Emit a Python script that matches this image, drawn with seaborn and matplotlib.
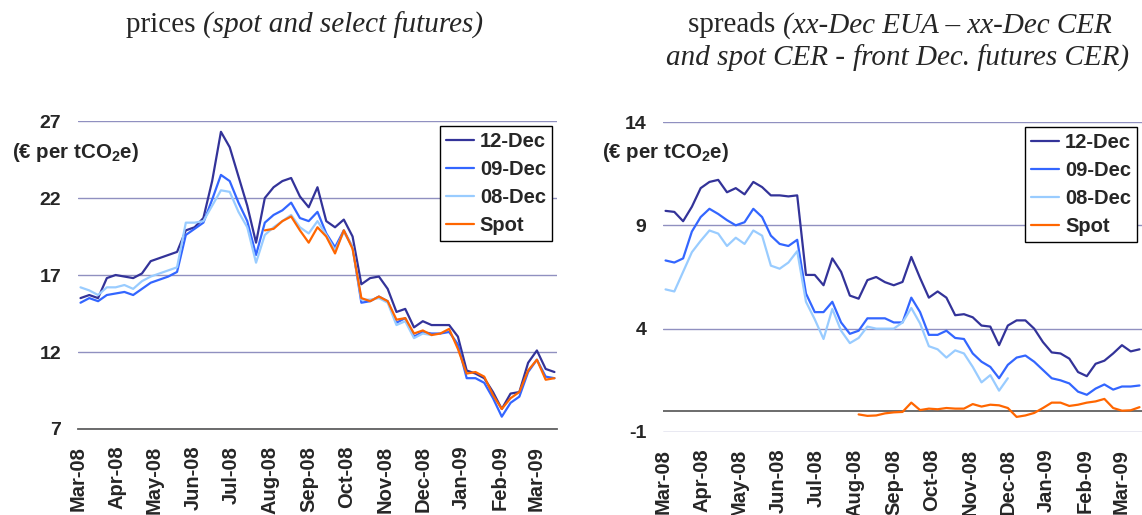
import matplotlib
matplotlib.use('Agg')
import numpy as np
import pandas as pd
import matplotlib.pyplot as plt
import matplotlib.dates as mdates
import seaborn as sns

# ---- data (weekly readings, Mondays from 3 Mar 2008) ----
weeks = pd.date_range('2008-03-03', periods=55, freq='7D')

# prices (EUR per tCO2e)
price_12 = [15.5, 15.7, 15.5, 16.8, 17.0, 16.9, 16.8, 17.1, 17.9, 18.1, 18.3, 18.5,
            19.9, 20.1, 20.7, 23.1, 26.3, 25.3, 23.4, 21.5, 19.1, 22.0, 22.7, 23.1,
            23.3, 22.1, 21.4, 22.7, 20.5, 20.1, 20.6, 19.5, 16.4, 16.8, 16.9, 16.1,
            14.6, 14.8, 13.6, 14.0, 13.75, 13.75, 13.75, 13.0, 10.8, 10.6, 10.3, 9.4,
            8.3, 9.3, 9.4, 11.3, 12.1, 10.9, 10.7]
price_09 = [15.2, 15.5, 15.3, 15.7, 15.8, 15.9, 15.7, 16.1, 16.5, 16.7, 16.9, 17.2,
            19.6, 20.0, 20.4, 21.9, 23.5, 23.1, 21.7, 20.5, 18.3, 20.4, 20.9, 21.2,
            21.7, 20.7, 20.5, 21.1, 19.7, 18.8, 19.9, 18.8, 15.2, 15.3, 15.6, 15.3,
            13.9, 14.2, 13.0, 13.3, 13.2, 13.2, 13.3, 12.5, 10.3, 10.3, 10.0, 9.0,
            7.8, 8.7, 9.1, 10.7, 11.5, 10.4, 10.3]
price_08 = [16.2, 16.0, 15.7, 16.2, 16.2, 16.35, 16.1, 16.6, 16.9, 17.1, 17.3, 17.5,
            20.4, 20.4, 20.5, 21.5, 22.5, 22.4, 21.1, 20.1, 17.8, 19.6, 20.1, 20.5,
            20.9, 20.1, 19.7, 20.5, 19.6, 18.6, 19.8, 18.8, 15.4, 15.4, 15.5, 15.2,
            13.75, 14.0, 12.9, 13.2, 13.1]
price_spot = [19.9, 20.0, 20.5, 20.8, 19.9, 19.1, 20.1, 19.5, 18.4, 19.9, 18.7,
              15.5, 15.3, 15.6, 15.3, 14.1, 14.2, 13.2, 13.4, 13.1, 13.2, 13.5, 12.2,
              10.6, 10.7, 10.4, 9.2, 8.3, 9.0, 9.4, 10.8, 11.5, 10.2, 10.3]
price_spot_start = 21  # week index where spot series begins

# spreads (EUR per tCO2e)
spread_12 = [9.7, 9.65, 9.2, 9.9, 10.8, 11.1, 11.2, 10.6, 10.8, 10.5, 11.1, 10.85,
             10.45, 10.45, 10.4, 10.45, 6.6, 6.6, 6.1, 7.4, 6.75, 5.6, 5.45, 6.35,
             6.5, 6.25, 6.1, 6.26, 7.47, 6.45, 5.5, 5.8, 5.5, 4.65, 4.7, 4.55, 4.15,
             4.1, 3.2, 4.15, 4.4, 4.4, 4.0, 3.35, 2.85, 2.8, 2.55, 1.9, 1.7, 2.3,
             2.45, 2.8, 3.2, 2.9, 3.0]
spread_09 = [7.3, 7.2, 7.4, 8.7, 9.4, 9.8, 9.55, 9.25, 9.0, 9.15, 9.8, 9.4, 8.5,
             8.1, 8.0, 8.3, 5.7, 4.8, 4.8, 5.3, 4.3, 3.75, 3.9, 4.5, 4.5, 4.5, 4.3,
             4.3, 5.5, 4.8, 3.7, 3.7, 3.9, 3.55, 3.5, 2.8, 2.4, 2.15, 1.6, 2.25, 2.6,
             2.7, 2.4, 2.0, 1.6, 1.5, 1.35, 0.95, 0.8, 1.1, 1.3, 1.05, 1.2, 1.2, 1.25]
spread_08 = [5.9, 5.8, 6.75, 7.7, 8.25, 8.75, 8.6, 8.0, 8.4, 8.1, 8.75, 8.5, 7.05,
             6.9, 7.2, 7.75, 5.3, 4.45, 3.5, 4.95, 3.9, 3.3, 3.55, 4.1, 4.0, 4.0, 4.0,
             4.3, 5.0, 4.25, 3.15, 3.0, 2.6, 2.95, 2.8, 2.15, 1.4, 1.75, 1.0, 1.6]
spread_spot = [-0.15, -0.22, -0.2, -0.1, -0.05, -0.03, 0.42, 0.06, 0.13, 0.1, 0.16,
               0.13, 0.13, 0.35, 0.23, 0.32, 0.29, 0.16, -0.27, -0.2, -0.08, 0.16,
               0.42, 0.42, 0.26, 0.32, 0.42, 0.48, 0.6, 0.16, 0.03, 0.05, 0.2]
spread_spot_start = 22

series_names = ['12-Dec', '09-Dec', '08-Dec', 'Spot']
colors = {'12-Dec': '#333399', '09-Dec': '#3366ff', '08-Dec': '#99ccff', 'Spot': '#ff6600'}


def long_frame(vals, starts):
    parts = []
    for name, v, s in zip(series_names, vals, starts):
        parts.append(pd.DataFrame({'date': weeks[s:s + len(v)], 'value': v, 'series': name}))
    return pd.concat(parts, ignore_index=True)


prices = long_frame([price_12, price_09, price_08, price_spot], [0, 0, 0, price_spot_start])
spreads = long_frame([spread_12, spread_09, spread_08, spread_spot], [0, 0, 0, spread_spot_start])

# ---- style ----
sns.set_style('white')
plt.rcParams['font.family'] = ['Liberation Sans', 'DejaVu Sans']
plt.rcParams['font.weight'] = 'bold'
plt.rcParams['axes.unicode_minus'] = False
plt.rcParams['mathtext.fontset'] = 'custom'
plt.rcParams['mathtext.rm'] = 'Liberation Sans:bold'
plt.rcParams['mathtext.it'] = 'Liberation Sans:bold'

GRID = '#9090c0'
AXIS = '#606060'

fig = plt.figure(figsize=(11.42, 5.15), dpi=100)
ax1 = fig.add_axes([0.0683, 0.167, 0.4194, 0.598])
ax2 = fig.add_axes([0.5806, 0.1612, 0.4194, 0.6019])


def style_axis(ax, df, ylim, yticks):
    sns.lineplot(data=df, x='date', y='value', hue='series', hue_order=series_names,
                 palette=colors, linewidth=1.6, ax=ax, zorder=3)
    ax.set_xlim(pd.Timestamp('2008-03-01'), pd.Timestamp('2009-03-18'))
    ax.set_ylim(*ylim)
    ax.set_yticks(yticks)
    ax.xaxis.set_major_locator(mdates.MonthLocator())
    ax.xaxis.set_major_formatter(mdates.DateFormatter('%b-%y'))
    ax.set_xlabel('')
    ax.set_ylabel('')
    for s in ax.spines.values():
        s.set_visible(False)
    ax.grid(axis='y', color=GRID, linewidth=1.0)
    ax.grid(axis='x', visible=False)
    ax.set_axisbelow(True)
    ax.tick_params(axis='y', length=0, labelsize=14, pad=12)
    ax.tick_params(axis='x', length=0, labelsize=14.5, pad=12, labelrotation=90)
    h, l = ax.get_legend_handles_labels()
    leg = ax.legend(h, l, loc='upper right', fontsize=14.5, frameon=True, fancybox=False,
                    edgecolor='black', framealpha=1, borderpad=0.3, labelspacing=0.45,
                    handlelength=1.4, handletextpad=0.3, borderaxespad=0.25)
    leg.get_frame().set_linewidth(1.0)
    for line in leg.get_lines():
        line.set_linewidth(1.6)


style_axis(ax1, prices, (7, 27), [7, 12, 17, 22, 27])
ax1.spines['bottom'].set_visible(True)
ax1.spines['bottom'].set_color(AXIS)
ax1.spines['bottom'].set_linewidth(1.3)

style_axis(ax2, spreads, (-1, 14), [-1, 4, 9, 14])
ax2.axhline(0, color=AXIS, linewidth=1.3, zorder=2)

fig.text(0.0105, 0.703, '(€ per tCO$_2$e)', fontsize=14.8, ha='left', va='center')
fig.text(0.527, 0.703, '(€ per tCO$_2$e)', fontsize=14.8, ha='left', va='center')


def rich_text(xc, y, parts, size=21):
    r = fig.canvas.get_renderer()
    W = fig.bbox.width
    items = [fig.text(0, y, s, fontsize=size, family='Liberation Serif', style=st,
                      weight='normal', ha='left', va='center') for s, st in parts]
    widths = [t.get_window_extent(renderer=r).width for t in items]
    x = xc * W - sum(widths) / 2
    for t, w in zip(items, widths):
        t.set_x(x / W)
        x += w


rich_text(0.267, 0.951, [('prices ', 'normal'), ('(spot and select futures)', 'italic')])
rich_text(0.788, 0.951, [('spreads ', 'normal'), ('(xx-Dec EUA \u2013 xx-Dec CER', 'italic')])
rich_text(0.786, 0.887, [('and spot CER', 'italic'), (' - ', 'normal'),
                         ('front Dec. futures CER)', 'italic')])

fig.savefig('out.png', dpi=100)
